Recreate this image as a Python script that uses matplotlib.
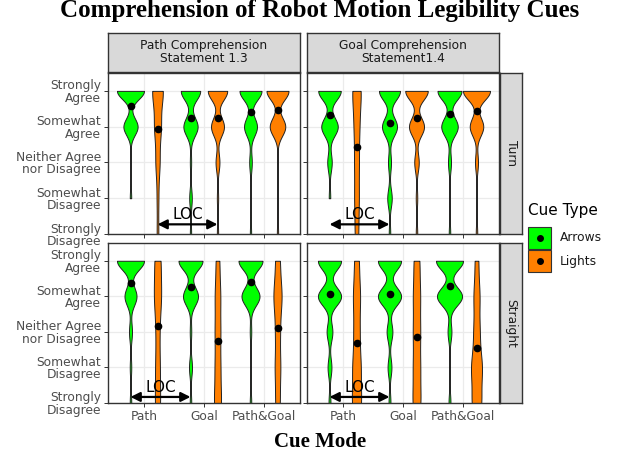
import numpy as np
import matplotlib.pyplot as plt
from matplotlib.patches import Rectangle

levels = [1, 2, 3, 4, 5]
level_labels = ["Strongly\nDisagree", "Somewhat\nDisagree", "Neither Agree\nnor Disagree",
                "Somewhat\nAgree", "Strongly\nAgree"]
modes = ["Path", "Goal", "Path&Goal"]
cue_types = ["Arrows", "Lights"]
col_titles = ["Path Comprehension\nStatement 1.3", "Goal Comprehension\nStatement1.4"]
row_titles = ["Turn", "Straight"]

# number of responses at each level (1..5), one row per cue mode (Path, Goal, Path&Goal)
path_turn_arrows = [[0, 1, 0, 10, 19], [1, 2, 1, 11, 15], [1, 0, 2, 10, 17]]
path_turn_lights = [[2, 2, 5, 8, 13], [1, 1, 3, 10, 15], [1, 0, 0, 12, 17]]
goal_turn_arrows = [[0, 1, 3, 11, 15], [1, 3, 2, 10, 14], [1, 0, 2, 11, 16]]
goal_turn_lights = [[4, 5, 5, 6, 10], [1, 1, 3, 10, 15], [1, 0, 2, 9, 18]]
path_straight_arrows = [[1, 1, 2, 8, 18], [1, 2, 1, 10, 16], [1, 0, 1, 12, 16]]
path_straight_lights = [[6, 5, 4, 8, 7], [8, 6, 6, 6, 4], [5, 6, 5, 9, 5]]
goal_straight_arrows = [[1, 2, 3, 12, 12], [1, 2, 3, 12, 12], [1, 0, 2, 13, 14]]
goal_straight_lights = [[8, 7, 5, 6, 4], [7, 6, 6, 6, 5], [8, 9, 5, 5, 3]]

panels = {(0, 0): (path_turn_arrows, path_turn_lights),
          (0, 1): (goal_turn_arrows, goal_turn_lights),
          (1, 0): (path_straight_arrows, path_straight_lights),
          (1, 1): (goal_straight_arrows, goal_straight_lights)}

colors = {"Arrows": "#00FF00", "Lights": "#FF7F00"}
bw_adjust = 0.75


def bw_nrd0(x):
    hi = np.std(x, ddof=1)
    q1, q3 = np.percentile(x, [25, 75])
    lo = min(hi, (q3 - q1) / 1.34)
    if lo == 0:
        lo = hi if hi > 0 else 1.0
    return 0.9 * lo * len(x) ** -0.2


def violin_density(counts):
    x = np.repeat(levels, counts).astype(float)
    bw = bw_nrd0(x) * bw_adjust
    ys = np.linspace(x.min(), x.max(), 512)
    d = np.exp(-0.5 * ((ys[:, None] - x[None, :]) / bw) ** 2).sum(axis=1)
    d = d / (len(x) * bw * np.sqrt(2 * np.pi))
    return ys, d, x.mean()


W, H = 640, 454
fig = plt.figure(figsize=(6.4, 4.54), dpi=100)


def px_axes(l, t, r, b):
    return fig.add_axes([l / W, 1 - b / H, (r - l) / W, (b - t) / H])


col_x = [(108, 300), (307, 499)]
row_y = [(73, 234), (243, 403)]
grid_c = "#EBEBEB"
dark = "#333333"
txt_size = 8.8

loc_pos = {(0, 0): (1.225, 2.225, 1.27, 1.55),
           (0, 1): (0.775, 1.775, 1.27, 1.55),
           (1, 0): (0.775, 1.775, 1.17, 1.45),
           (1, 1): (0.775, 1.775, 1.17, 1.45)}

for (r, c), (arrows, lights) in panels.items():
    ax = px_axes(col_x[c][0], row_y[r][0], col_x[c][1], row_y[r][1])
    ax.set_xlim(0.4, 3.6)
    ax.set_ylim(1, 5.5)
    for y in levels:
        ax.axhline(y, color=grid_c, lw=0.9, zorder=0)
    for xm in range(1, 4):
        ax.axvline(xm, color=grid_c, lw=0.9, zorder=0)

    dens = []
    for ci, group in enumerate([arrows, lights]):
        for mi, counts in enumerate(group):
            ys, d, m = violin_density(counts)
            dens.append((mi + 1 + (ci - 0.5) * 0.45, ys, d, m, cue_types[ci]))
    dmax = max(item[2].max() for item in dens)
    for x0, ys, d, m, cue in dens:
        hw = d / dmax * 0.225
        ax.fill_betweenx(ys, x0 - hw, x0 + hw, facecolor=colors[cue],
                         edgecolor="#222222", lw=0.7, zorder=2)
        ax.plot(x0, m, "o", color="black", ms=4.5, zorder=3)

    x1, x2, ya, yt = loc_pos[(r, c)]
    ax.annotate("", xy=(x1, ya), xytext=(x2, ya),
                arrowprops=dict(arrowstyle="<|-|>", color="black", lw=1.6,
                                mutation_scale=14, shrinkA=0, shrinkB=0), zorder=4)
    ax.text((x1 + x2) / 2, yt, "LOC", ha="center", va="center", fontsize=11, zorder=4)

    ax.set_yticks(levels)
    ax.set_xticks([1, 2, 3])
    if c == 0:
        ax.set_yticklabels(level_labels, fontsize=txt_size, color="#4D4D4D", linespacing=0.95)
    else:
        ax.set_yticklabels([])
    if r == 1:
        ax.set_xticklabels(modes, fontsize=txt_size, color="#4D4D4D")
    else:
        ax.set_xticklabels([])
    ax.tick_params(length=3, width=0.7, color=dark, pad=2)
    for s in ax.spines.values():
        s.set_color(dark)
        s.set_linewidth(1.0)

    if r == 0:
        sa = px_axes(col_x[c][0], 33, col_x[c][1], 72)
        sa.set_facecolor("#D9D9D9")
        sa.set_xticks([])
        sa.set_yticks([])
        for s in sa.spines.values():
            s.set_color(dark)
            s.set_linewidth(1.0)
        sa.text(0.5, 0.5, col_titles[c], ha="center", va="center", fontsize=txt_size,
                color="#1A1A1A", linespacing=1.0, transform=sa.transAxes)
    if c == 1:
        sa = px_axes(500, row_y[r][0], 522, row_y[r][1])
        sa.set_facecolor("#D9D9D9")
        sa.set_xticks([])
        sa.set_yticks([])
        for s in sa.spines.values():
            s.set_color(dark)
            s.set_linewidth(1.0)
        sa.text(0.5, 0.5, row_titles[r], ha="center", va="center", fontsize=txt_size,
                color="#1A1A1A", rotation=270, transform=sa.transAxes)

# legend
fig.text(528 / W, 1 - 211 / H, "Cue Type", fontsize=11, va="center", ha="left")
for i, cue in enumerate(cue_types):
    top = 227 + i * 23
    fig.patches.append(Rectangle((528 / W, 1 - (top + 22) / H), 23 / W, 22 / H,
                                 transform=fig.transFigure, facecolor=colors[cue],
                                 edgecolor=dark, lw=0.8))
    fig.lines.append(plt.Line2D([539.5 / W], [1 - (top + 11) / H], marker="o", color="black",
                                ms=4, transform=fig.transFigure))
    fig.text(560 / W, 1 - (top + 11) / H, cue, fontsize=txt_size, va="center", ha="left",
             color="#1A1A1A")

fig.text(0.5, 1 - 17 / H, "Comprehension of Robot Motion Legibility Cues", ha="center",
         va="baseline", fontsize=18, fontweight="bold", family="Liberation Serif")
fig.text(0.5, 2 / H, "Cue Mode", ha="center", va="bottom", fontsize=15,
         fontweight="bold", family="Liberation Serif")

fig.savefig("out.png", dpi=100)
